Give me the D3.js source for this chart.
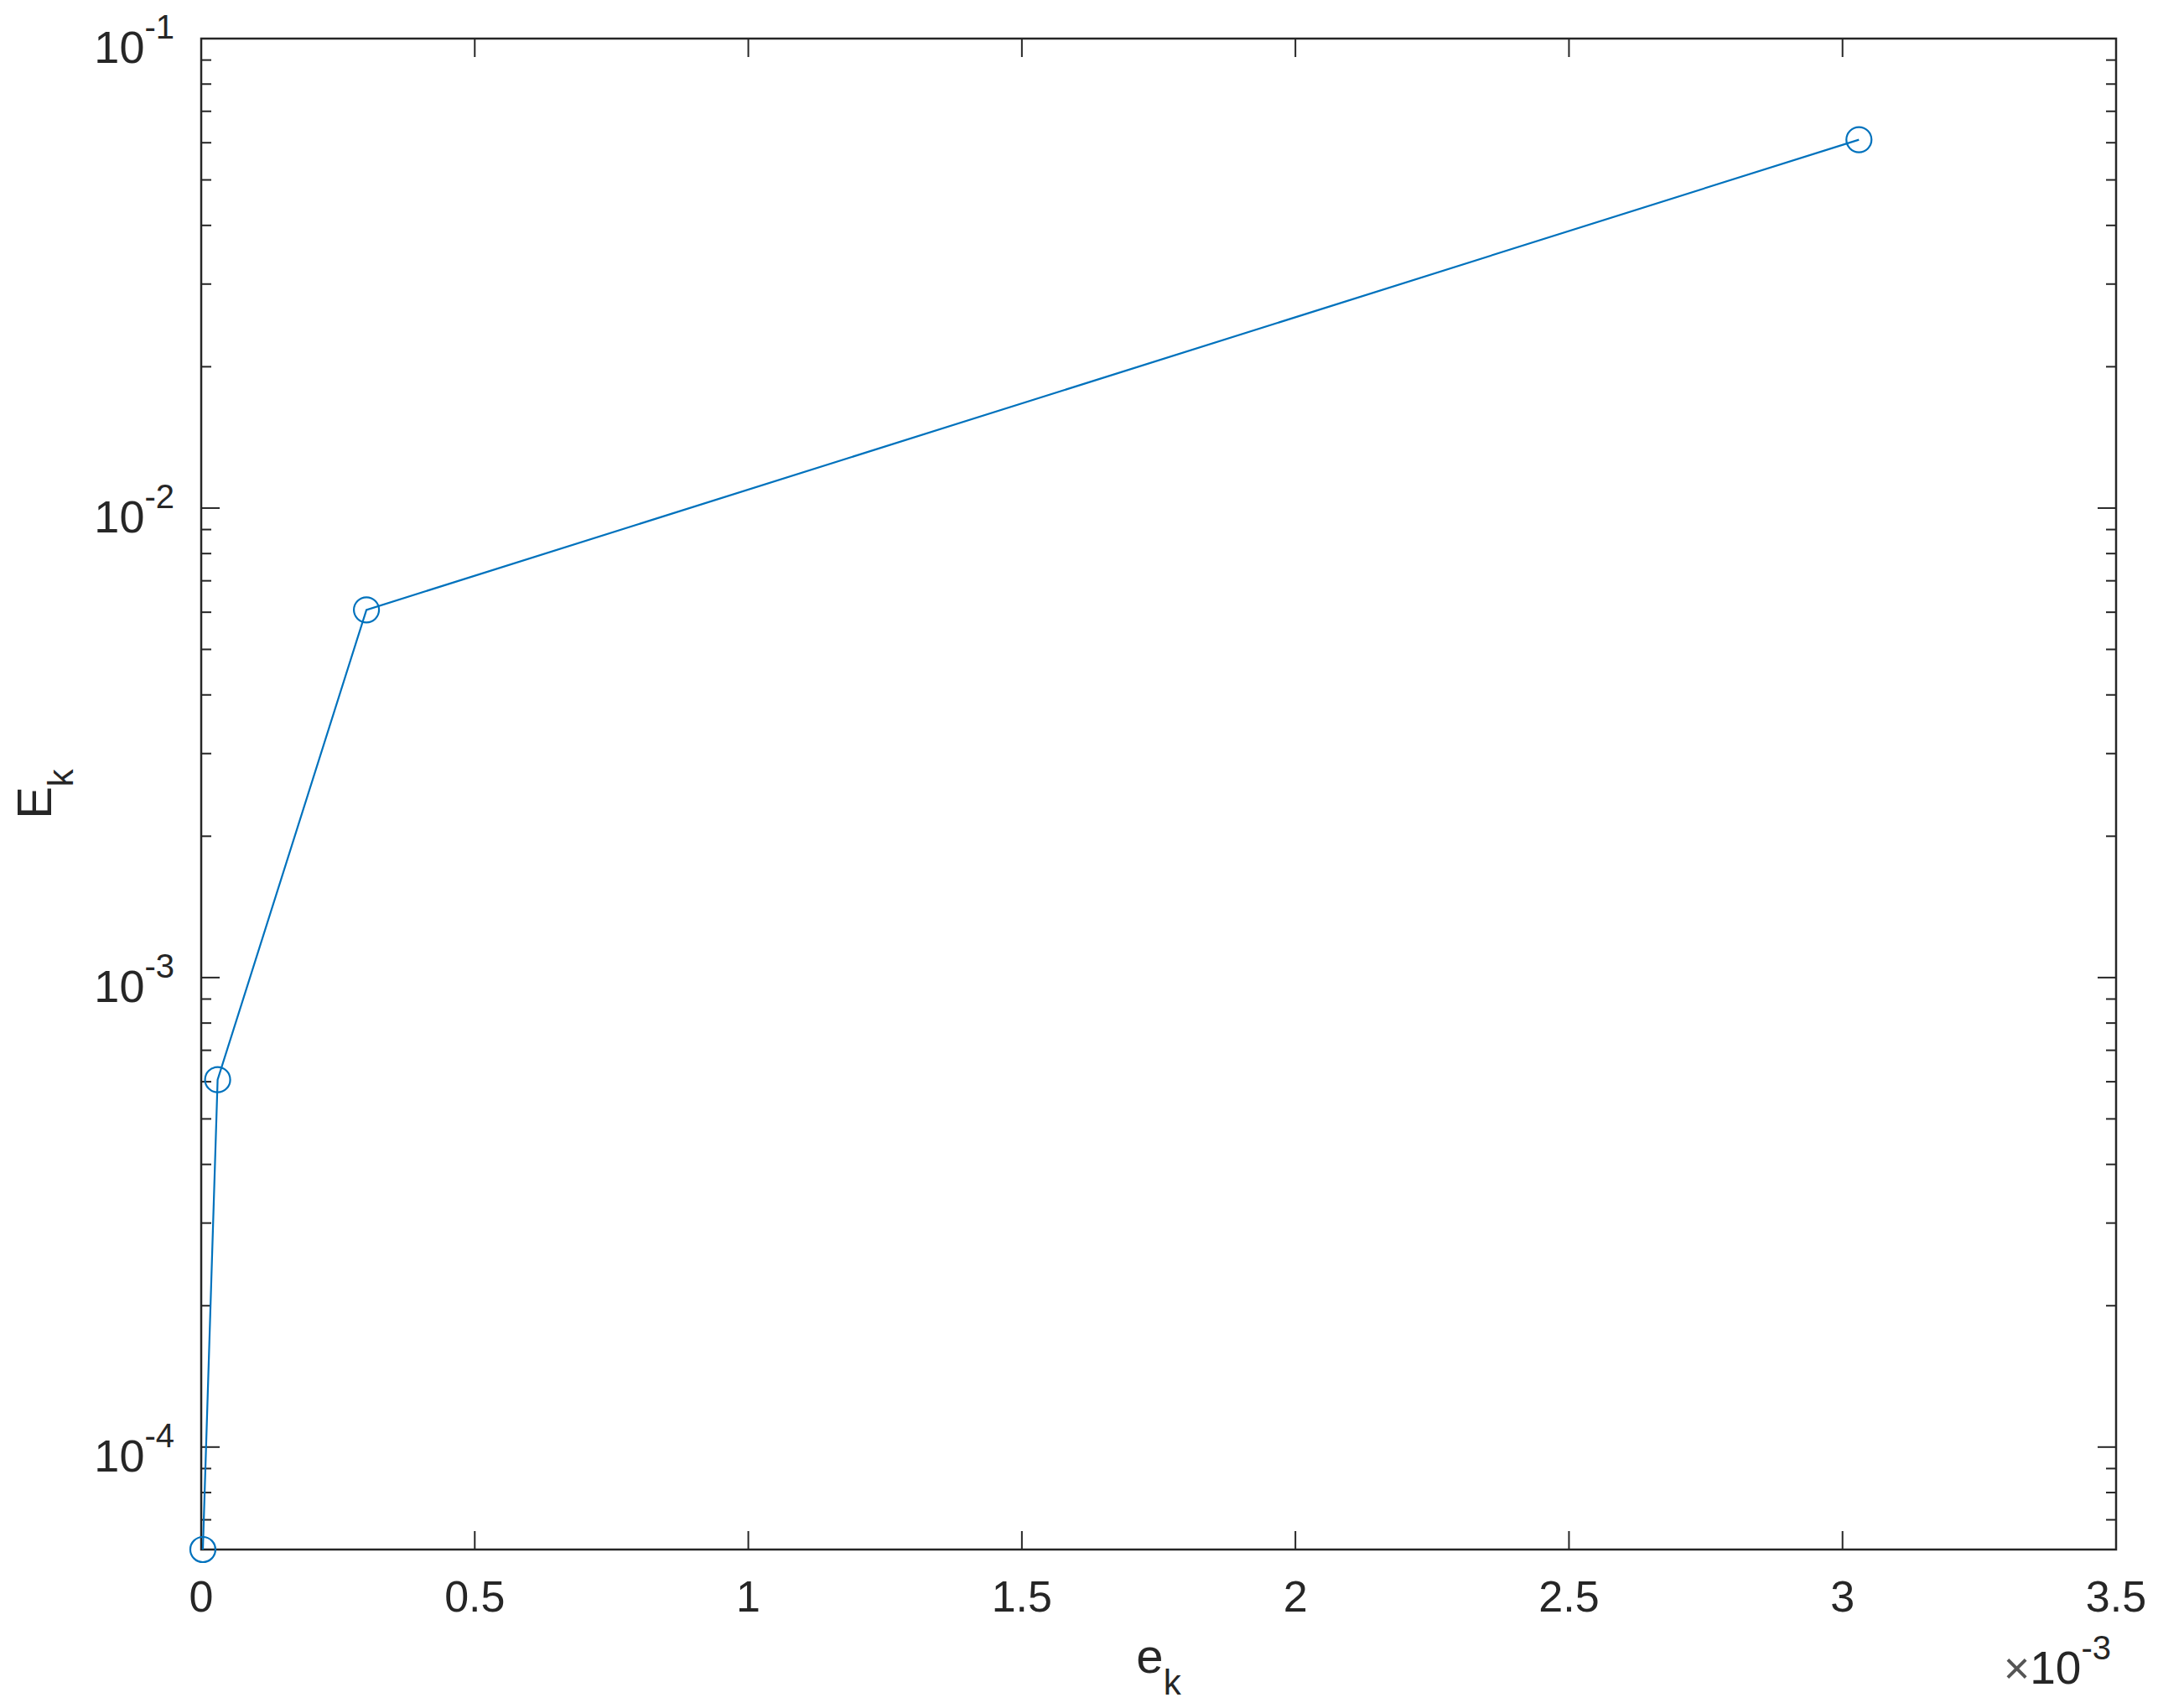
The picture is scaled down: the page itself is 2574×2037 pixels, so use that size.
<!DOCTYPE html>
<html>
<head>
<meta charset="utf-8">
<script src="https://cdn.jsdelivr.net/npm/d3@7"></script>
<style>
  html, body { margin: 0; padding: 0; background: #fff; }
  svg { display: block; }
  text { font-family: "Liberation Sans", Arial, Helvetica, sans-serif; fill: #262626; }
</style>
</head>
<body>
<script>
// ---- data ----
const ek = [3.0e-6, 3.0e-5, 3.02e-4, 3.03e-3];        // x values
const Ek = [6.05e-5, 6.06e-4, 6.07e-3, 6.09e-2];       // y values
const xTicks = [0, 0.5e-3, 1e-3, 1.5e-3, 2e-3, 2.5e-3, 3e-3, 3.5e-3];
const xTickLabels = ["0", "0.5", "1", "1.5", "2", "2.5", "3", "3.5"];
const yTickExps = [-1, -2, -3, -4];
const xLabel = ["e", "k"];
const yLabel = ["E", "k"];
const xExponent = "-3";

// ---- layout ----
const W = 2574, H = 2037;
const L = 240, T = 46, R = 2524, B = 1848;
const ink = "#262626", blue = "#0072BD";

const svg = d3.select("body").append("svg").attr("width", W).attr("height", H);

const x = d3.scaleLinear().domain([0, 3.5e-3]).range([L, R]);
const y = d3.scaleLog().domain([Ek[0], 0.1]).range([B, T]);

// ---- ticks ----
const g = svg.append("g");
const majLen = 22, minLen = 12, xLen = 22;

xTicks.forEach(v => {
  g.append("line").attr("x1", x(v)).attr("x2", x(v)).attr("y1", B).attr("y2", B - xLen)
    .attr("stroke", ink).attr("stroke-width", 2);
  g.append("line").attr("x1", x(v)).attr("x2", x(v)).attr("y1", T).attr("y2", T + xLen)
    .attr("stroke", ink).attr("stroke-width", 2);
});
xTickLabels.forEach((lab, i) => {
  g.append("text").attr("x", x(xTicks[i])).attr("y", B + 74)
    .attr("text-anchor", "middle").attr("font-size", 52).text(lab);
});

const yMin = y.domain()[0], yMax = y.domain()[1];
for (let e = -5; e <= -1; e++) {
  for (let m = 1; m <= 9; m++) {
    const v = m * Math.pow(10, e);
    if (v < yMin * 0.9999 || v > yMax * 1.0001) continue;
    const len = m === 1 ? majLen : minLen;
    const yy = y(v);
    g.append("line").attr("x1", L).attr("x2", L + len).attr("y1", yy).attr("y2", yy)
      .attr("stroke", ink).attr("stroke-width", 2);
    g.append("line").attr("x1", R).attr("x2", R - len).attr("y1", yy).attr("y2", yy)
      .attr("stroke", ink).attr("stroke-width", 2);
  }
}
yTickExps.forEach(e => {
  const yy = y(Math.pow(10, e));
  const t = g.append("text").attr("x", 208).attr("y", yy + 29)
    .attr("text-anchor", "end").attr("font-size", 54);
  t.append("tspan").text("10");
  t.append("tspan").attr("dy", -29).attr("font-size", 40).text("-" + Math.abs(e));
});

// ---- box ----
svg.append("rect").attr("x", L).attr("y", T).attr("width", R - L).attr("height", B - T)
  .attr("fill", "none").attr("stroke", ink).attr("stroke-width", 2.5);

// ---- data line & markers ----
const pts = ek.map((v, i) => [v, Ek[i]]);
svg.append("path").datum(pts)
  .attr("d", d3.line().x(d => x(d[0])).y(d => y(d[1])))
  .attr("fill", "none").attr("stroke", blue).attr("stroke-width", 2.2);
svg.selectAll("circle.m").data(pts).enter().append("circle")
  .attr("class", "m")
  .attr("cx", d => x(d[0])).attr("cy", d => y(d[1])).attr("r", 15)
  .attr("fill", "none").attr("stroke", blue).attr("stroke-width", 2.2);

// ---- axis labels ----
const xl = svg.append("text").attr("x", (L + R) / 2).attr("y", 1995)
  .attr("text-anchor", "middle").attr("font-size", 58);
xl.append("tspan").text(xLabel[0]);
xl.append("tspan").attr("dy", 26).attr("font-size", 42).text(xLabel[1]);

const yl = svg.append("text")
  .attr("transform", `translate(61, ${(T + B) / 2}) rotate(-90)`)
  .attr("text-anchor", "middle").attr("font-size", 58);
yl.append("tspan").text(yLabel[0]);
yl.append("tspan").attr("dy", 26).attr("font-size", 42).text(yLabel[1]);

// exponent label
const ex = svg.append("text").attr("x", 2518).attr("y", 2008)
  .attr("text-anchor", "end").attr("font-size", 55);
ex.append("tspan").attr("font-size", 54).attr("fill", "#555").text("×");
ex.append("tspan").text("10");
ex.append("tspan").attr("dy", -29).attr("font-size", 40).text(xExponent);
</script>
</body>
</html>
